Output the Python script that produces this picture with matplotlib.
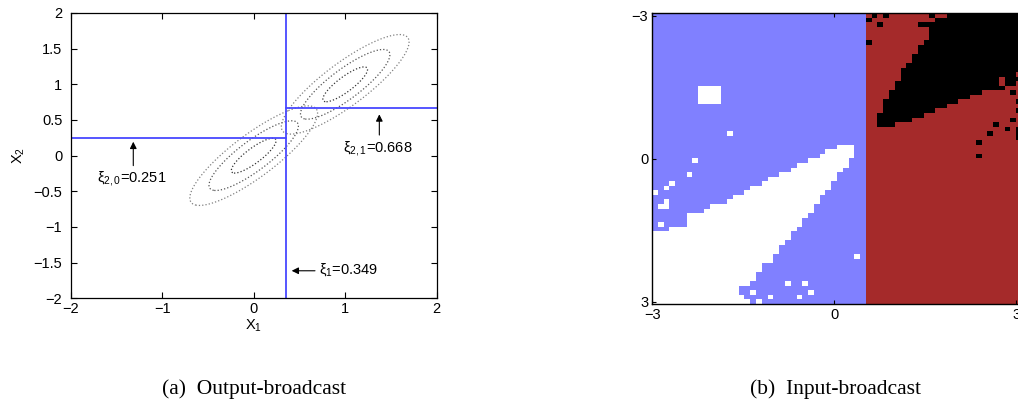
import numpy as np
import matplotlib
matplotlib.use('Agg')
import matplotlib.pyplot as plt
from matplotlib.colors import ListedColormap

plt.rcParams['font.family'] = ['Liberation Sans', 'DejaVu Sans']
plt.rcParams['mathtext.fontset'] = 'custom'
plt.rcParams['mathtext.rm'] = 'Liberation Sans'
plt.rcParams['mathtext.it'] = 'Liberation Sans:italic'
plt.rcParams['mathtext.bf'] = 'Liberation Sans:bold'
plt.rcParams['font.size'] = 10.5

# ---- (a) split points found by the tree
xi_1 = 0.349
xi_20 = 0.251
xi_21 = 0.668

# two gaussian blobs drawn as dotted contours
blob_means = [(0.0, 0.0), (1.0, 1.0)]
blob_sd = 0.698
blob_rho = 0.85
blob_radii = [0.35, 0.7, 1.0]
blob_colors = ['#333333', '#555555', '#808080']

# ---- (b) 64 x 64 class map, rows top->bottom, cols left->right
n_rows, n_cols = 64, 64
split_col = 37            # first red column

# white wedge inside the blue part (rows 29..63), first/last white column
wedge_rows = list(range(29, 64))
wedge_left = [32, 30, 29, 27, 25, 24, 22, 20, 19, 17, 16, 14, 13, 10, 9, 6, 6, 6, 3,
              0, 0, 0, 0, 0, 0, 0, 0, 0, 0, 0, 0, 0, 0, 0, 0]
wedge_right = [34, 34, 34, 33, 33, 32, 31, 31, 30, 30, 29, 28, 28, 27, 27, 26, 25, 25, 24,
               23, 23, 22, 21, 21, 20, 20, 18, 18, 17, 17, 16, 14, 14, 15, 16]
white_block = (16, 19, 8, 11)   # rows r0..r1, cols c0..c1
white_dots = [(26, 13), (32, 7), (35, 6), (37, 3), (38, 2), (39, 0), (41, 2), (42, 1),
              (42, 2), (46, 1), (53, 35), (59, 23), (59, 26), (61, 17), (61, 27),
              (62, 20), (62, 25), (63, 18)]

# black region inside the red part (rows 0..24)
black_rows = list(range(0, 25))
black_left = [51, 49, 46, 48, 48, 48, 47, 46, 46, 45, 45, 44, 43, 43, 43, 42, 42, 41, 41,
              40, 40, 40, 39, 39, 39]
black_right = [63, 63, 63, 63, 63, 63, 63, 63, 63, 63, 63, 63, 63, 63, 63, 63,
               60, 56, 54, 52, 50, 48, 46, 44, 41]
black_dots = [(0, 38), (0, 40), (0, 48), (1, 37), (2, 39), (6, 37), (17, 62), (23, 62),
              (24, 59), (25, 61), (26, 58), (28, 56), (31, 56), (19, 63), (21, 63),
              (25, 63), (26, 63), (27, 63)]
red_dots = [(14, 60), (15, 60), (13, 63), (15, 63)]

class_colors = ['#8080ff', '#ffffff', '#a52a2a', '#000000']

# build the class grid
grid = np.zeros((n_rows, n_cols), dtype=int)
grid[:, split_col:] = 2
for r, a, b in zip(wedge_rows, wedge_left, wedge_right):
    grid[r, a:b + 1] = 1
r0, r1, c0, c1 = white_block
grid[r0:r1 + 1, c0:c1 + 1] = 1
for r, c in white_dots:
    grid[r, c] = 1
for r, a, b in zip(black_rows, black_left, black_right):
    grid[r, a:b + 1] = 3
for r, c in black_dots:
    grid[r, c] = 3
for r, c in red_dots:
    grid[r, c] = 2

W, H = 1018, 404
fig = plt.figure(figsize=(W / 100, H / 100), dpi=100)

# ---------------- left panel
ax = fig.add_axes([70.7 / W, (H - 298.3) / H, 366 / W, 285.3 / H])
xs = np.linspace(-2, 2, 500)
X, Y = np.meshgrid(xs, xs)
for mx, my in blob_means:
    dx, dy = X - mx, Y - my
    Z = (dx**2 - 2 * blob_rho * dx * dy + dy**2) / (blob_sd**2 * (1 - blob_rho**2))
    ax.contour(X, Y, Z, levels=[r**2 for r in blob_radii], colors=blob_colors,
               linestyles=':', linewidths=0.9)

blue = '#4848ff'
ax.plot([xi_1, xi_1], [-2, 2], color=blue, lw=1.3)
ax.plot([-2, xi_1], [xi_20, xi_20], color=blue, lw=1.3)
ax.plot([xi_1, 2], [xi_21, xi_21], color=blue, lw=1.3)

arrow = dict(arrowstyle='-|>', color='k', lw=0.8, mutation_scale=10, shrinkA=0, shrinkB=0)
ax.annotate('', xy=(-1.316, 0.195), xytext=(-1.316, -0.14), arrowprops=arrow)
ax.annotate('', xy=(1.373, 0.579), xytext=(1.373, 0.289), arrowprops=arrow)
ax.annotate('', xy=(0.415, -1.614), xytext=(0.67, -1.614), arrowprops=arrow)
ax.text(-1.716, -0.366, r'ξ$_{2,0}$=%.3f' % xi_20, va='baseline', ha='left')
ax.text(0.979, 0.055, r'ξ$_{2,1}$=%.3f' % xi_21, va='baseline', ha='left')
ax.text(0.717, -1.66, r'ξ$_{1}$=%.3f' % xi_1, va='baseline', ha='left')

ax.set_xlim(-2, 2)
ax.set_ylim(-2, 2)
ax.set_xticks([-2, -1, 0, 1, 2])
ax.set_yticks([-2, -1.5, -1, -0.5, 0, 0.5, 1, 1.5, 2])
ax.set_yticklabels(['\u22122', '\u22121.5', '\u22121', '\u22120.5', '0', '0.5', '1', '1.5', '2'])
ax.tick_params(direction='in', top=True, right=True, length=4, width=0.8)
ax.tick_params(axis='y', pad=6)
ax.tick_params(axis='x', pad=3)
ax.set_xlabel('X$_1$', labelpad=1)
ax.set_ylabel('X$_2$', labelpad=5)
for s in ax.spines.values():
    s.set_linewidth(0.9)

# ---------------- right panel
cell = 6 / 63
ax2 = fig.add_axes([652.3 / W, (H - 304) / H, n_cols * 5.778 / W, 290.7 / H])
ax2.imshow(grid, cmap=ListedColormap(class_colors), vmin=-0.5, vmax=3.5,
           interpolation='nearest', aspect='auto',
           extent=[-3, -3 + n_cols * cell, 3 + cell / 2, -3 - cell / 2])
ax2.set_xlim(-3, -3 + n_cols * cell)
ax2.set_ylim(3 + cell / 2, -3 - cell / 2)
ax2.set_xticks([-3, 0, 3])
ax2.set_yticks([-3, 0, 3])
ax2.set_xticklabels(['\u22123', '0', '3'])
ax2.set_yticklabels(['\u22123', '0', '3'])
ax2.tick_params(direction='in', top=True, right=True, length=3, width=0.8, pad=3)
for s in ax2.spines.values():
    s.set_linewidth(1.0)

# ---------------- captions
fig.text(254 / W, 1 - 389 / H, '(a)  Output-broadcast', ha='center', va='center',
         family='Liberation Serif', fontsize=15.5)
fig.text(835 / W, 1 - 389 / H, '(b)  Input-broadcast', ha='center', va='center',
         family='Liberation Serif', fontsize=15.5)

fig.savefig('out.png', dpi=100)
